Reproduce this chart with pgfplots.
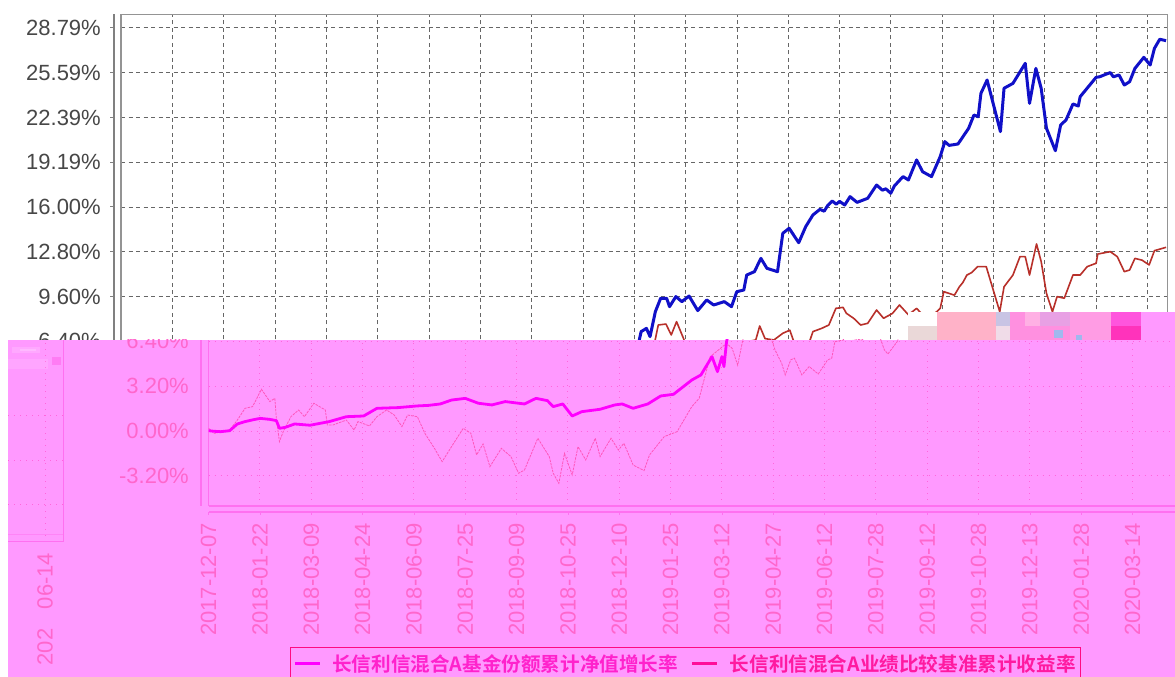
\documentclass[border=0pt]{standalone}
\usepackage{fontspec}
\usepackage{pgfplots}
\usepackage{pgfplotstable}
\pgfplotsset{compat=1.18}
\setmainfont{Liberation Sans}
\newfontfamily\cjk{Noto Sans CJK SC}[BoldFont={Noto Sans CJK SC Bold}]
\definecolor{bg}{HTML}{FF99FF}
\definecolor{pinkgrid}{HTML}{FF66DD}
\definecolor{pinktxt}{HTML}{FF66CC}
\definecolor{pinkspine}{HTML}{FF70F0}
\definecolor{legbox}{HTML}{FF0A80}
\definecolor{fundblue}{HTML}{1010C8}
\definecolor{fundred}{HTML}{B8302A}
\definecolor{benchpink}{HTML}{FF55BB}
\definecolor{purem}{HTML}{FF00FF}
\definecolor{legb}{HTML}{FF0D99}
\pgfplotstableread{
i v
0 0.02
3 -0.02
7 -0.05
12.3 0.02
16.8 0.5
21.3 0.67
26 0.8
30.2 0.9
35.8 0.83
39.6 0.74
41.4 0.19
44.8 0.26
50.3 0.5
59.3 0.41
70.5 0.67
80.5 1.02
90.6 1.07
98.4 1.62
110.8 1.67
122 1.79
128.6 1.83
135.4 1.93
142 2.21
150 2.33
157.7 1.98
165.6 1.86
173.4 2.1
184.6 1.93
191.3 2.33
198 2.17
201.4 1.74
207 1.93
212.5 1.07
218.1 1.38
228.8 1.55
237.4 1.86
241.7 1.93
248.1 1.62
256.7 1.93
264.2 2.5
271.7 2.62
282.4 3.64
287.7 4.0
294.2 5.31
297.4 4.24
300 5.31
301.2 4.6
302.7 6.38
304 7.1
307.1 7.33
309.2 6.74
312.3 8.52
315.4 9.48
318.9 9.48
320.6 8.88
324.3 9.6
327.8 9.24
332 9.64
337.1 8.6
342.3 9.36
346.4 9.0
352.6 9.24
356.8 8.88
359.9 9.95
364 10.07
365.7 11.14
370.2 11.38
374 12.33
377.5 11.62
383.7 11.38
386.8 14.12
390.5 14.48
396.1 13.45
400.2 14.6
404.4 15.43
408.5 15.83
411 15.7
413 16.1
415.7 16.43
418 16.2
420 16.4
423 16.14
426.1 16.74
430.2 16.33
436.4 16.62
441.6 17.57
445 17.2
447 17.3
449.9 16.98
452 17.5
455 17.9
457.1 18.17
460.2 17.93
465 19.36
468.5 18.52
473.7 18.17
478.8 19.6
481.5 20.67
484 20.4
489.2 20.5
495.4 21.62
498.5 22.57
501 22.45
502.6 24.12
506.2 25.07
514 21.38
516.1 24.48
521.3 24.83
528.5 26.26
531 23.4
534.7 25.9
537.8 24.48
540.9 21.62
546.1 20.02
549.2 21.86
552.3 22.21
556.4 23.36
559.5 23.21
560.6 23.88
569.9 25.26
572 25.3
575 25.45
578.2 25.6
580 25.3
583.3 25.43
586.4 24.71
589.5 24.95
592.6 25.9
597.8 26.69
601.5 26.14
604 27.33
607.1 27.98
610.8 27.88
}\fundtable
\pgfplotstableread{
i v
0 0.19
3.4 -0.17
12.3 0.07
16.8 0.78
21.3 1.62
25.7 1.74
30.9 2.98
35.8 2.1
38.7 2.33
39.6 0.9
41.4 -0.76
43.6 -0.05
48.1 1.02
52.6 1.5
56 1.02
61.5 1.98
68.2 1.5
69.4 0.43
72.7 0.43
80.5 0.78
85 0.07
87.3 0.67
94 0.36
98.4 1.02
104 1.5
108.5 1.14
113 0.31
116.3 1.14
122 1.02
126.4 -0.17
132 -1.24
136.5 -2.19
143.2 -0.88
148.8 0.19
153.3 -0.17
156.6 -1.71
160.4 -0.93
164.4 -2.55
171.1 -1.24
176.7 -1.83
181.2 -3.02
184.6 -2.79
192.4 -0.52
199.1 -1.83
201.4 -3.02
204.7 -3.74
208 -1.6
212.5 -3.14
215.9 -1.12
220.4 -2.07
226 -0.52
228.8 -1.83
235.2 -0.52
239.5 -1.36
242.7 -0.88
248.1 -2.43
254.5 -2.83
257.7 -1.71
266.3 -0.4
273.8 -0.05
282.4 1.74
286.7 2.33
288.8 3.3
293.1 5.3
302.7 6.26
306 5.9
309.2 4.7
312 6.38
314 7.57
318.5 7.64
321.6 6.86
324.7 7.81
328.8 6.6
331 5.8
334.9 4.84
337 4.0
340.2 5.08
342.4 5.2
346.7 4.0
351 4.6
356.3 4.07
361.7 5.07
364.2 5.2
366 6.38
371 6.5
373.3 7.5
376.4 6.6
381.6 6.5
386.8 6.98
390.9 7.2
394.9 5.8
397 5.5
402.4 6.38
404.4 7.1
409.5 7.33
413.7 7.57
417.8 8.76
422 8.83
424 8.4
428.2 8.05
432.3 7.57
436.4 7.69
441.6 8.64
445.7 8.05
450.9 8.4
455 9.0
460.2 8.3
465 8.76
468.5 8.3
473.7 8.17
478.8 8.76
480.9 9.95
487.1 9.7
490 10.3
492 10.6
494.4 11.14
497 11.3
500.6 11.74
505.7 11.74
513.6 8.52
516.1 10.3
521.3 11.14
525.4 12.45
528.5 12.45
531 11.14
535.1 13.36
537.8 12.1
540.9 9.83
544.4 8.52
547.1 9.6
551.3 9.48
556.4 11.14
560.6 11.14
564.7 11.74
569.9 11.98
570.9 12.64
578.2 12.81
582.3 12.45
586.4 11.38
589.5 11.5
592.6 12.33
596.8 12.2
600.9 11.86
604 12.88
610.8 13.12
}\benchtable
\pgfplotsset{
  base/.style={scale only axis, anchor=south west},
  xt/.style={xtick={0,30,60,90,120,150,180,210,240,270,300,330,360,390,420,450,480,510,540,570,600}},
  yt/.style={ytick={-3.2,0,3.2,6.4,9.6,12.8,16,19.19,22.39,25.59,28.79},
    yticklabels={-3.20\%,0.00\%,3.20\%,6.40\%,9.60\%,12.80\%,16.00\%,19.19\%,22.39\%,25.59\%,28.79\%}},
}
\begin{document}
\begin{tikzpicture}[x=1pt,y=1pt]
\path[use as bounding box,fill=white] (0,0) rectangle (1175,677);
% upper axis
\begin{axis}[base, at={(121pt,165pt)}, width=1046.6pt, height=497.5pt,
  xmin=0, xmax=611.7, ymin=-5.786, ymax=29.75, xt, yt,
  yticklabels={}, xticklabels={},
  grid=major, major tick length=0pt,
  grid style={draw=black!60, line width=0.9pt, dash pattern=on 4pt off 3.5pt},
  axis line style={draw=black!42, line width=1.4pt}]
\addplot[fundblue, line width=3pt, line join=round] table[x=i,y=v] {\fundtable};
\addplot[fundred, line width=1.6pt, line join=round] table[x=i,y=v] {\benchtable};
\end{axis}
\begin{axis}[base, at={(114pt,165pt)}, width=7pt, height=497.5pt,
  xmin=0, xmax=1, ymin=-5.786, ymax=29.75, yt, xtick=\empty,
  axis x line=none, axis y line=left, axis line style={-, draw=black!50, line width=1.4pt},
  major tick length=4pt, tick align=outside, tick style={draw=black!50, line width=1pt},
  yticklabel style={font=\fontsize{22}{24}\selectfont, text=black!72, inner sep=0pt, xshift=-9pt}]
\end{axis}
% corrupted lower band
\fill[bg] (8,0) rectangle (1175,337);
\begin{scope}
\clip (8,0) rectangle (1175,337);
% wrapped strip at the far left
\begin{axis}[base, at={(8pt,135.3pt)}, width=55.5pt, height=201.7pt,
  xmin=548.4, xmax=580.8, ymin=-5.836, ymax=8.57,
  xtick={570}, xticklabels={202\phantom{0-}06-14},
  ytick={-3.2,0,3.2}, yticklabels={}, grid=major,
  grid style={draw=pinkgrid, line width=0.9pt, dash pattern=on 1pt off 5pt},
  axis x line=bottom, axis y line=right, axis line style={-, draw=pinkspine, line width=1.2pt},
  major tick length=0pt,
  xticklabel style={rotate=90, anchor=east, font=\fontsize{22}{24}\selectfont, text=pinktxt, inner sep=0pt, xshift=-11pt}]
\end{axis}
\fill[pinkspine,opacity=.5] (8,142.3) rectangle (63.5,143.3);
\fill[white,opacity=.15] (12,324) rectangle (40,330);
\fill[white,opacity=.2] (20,326) rectangle (36,328);
\fill[pinkspine,opacity=.7] (52,312) rectangle (61,320);
\fill[white,opacity=.12] (8,308) rectangle (48,318);
% main lower axis
\begin{axis}[base, at={(208.6pt,171pt)}, width=966.4pt, height=166pt,
  xmin=0, xmax=564.8, ymin=-5.36, ymax=6.5, xt, yt,
  yticklabels={}, xticklabels={},
  grid=major, major tick length=0pt,
  grid style={draw=pinkgrid, line width=0.9pt, dash pattern=on 1pt off 5pt},
  axis x line=bottom, axis y line=left, axis line style={-, draw=pinkspine, line width=1.2pt},
  legend columns=2,
  legend cell align=left,
  legend style={at={(0.0842,-0.849)}, anchor=north west, draw=legbox, line width=1.1pt, fill=none,
    font=\cjk\bfseries\fontsize{19.6}{22}\selectfont, inner xsep=3pt, inner ysep=5pt,
    /tikz/every even column/.style={column sep=11pt}},
  legend image code/.code={\draw[#1] (0pt,0pt)--(25pt,0pt);}]
\addplot[benchpink, line width=0.8pt, dash pattern=on 2.5pt off 1pt, forget plot] table[x=i,y=v] {\benchtable};
\addplot[purem, line width=2.8pt, line join=round] table[x=i,y=v] {\fundtable};
\addlegendentry{\hspace*{9pt}\textcolor[HTML]{FF22CC}{长信利信混合A基金份额累计净值增长率}}
\addplot[legb, line width=2.8pt] coordinates {(-50,0)};
\addlegendentry{\hspace*{9pt}\textcolor[HTML]{FF1AA0}{长信利信混合A业绩比较基准累计收益率}}
\end{axis}
\begin{axis}[base, at={(201pt,171pt)}, width=7.6pt, height=166pt,
  xmin=0, xmax=1, ymin=-5.36, ymax=6.5, yt, xtick=\empty,
  axis x line=none, axis y line=left, axis line style={-, draw=pinkspine, line width=1.2pt},
  major tick length=0pt,
  yticklabel style={font=\fontsize{22}{24}\selectfont, text=pinktxt, inner sep=0pt, xshift=-12pt}]
\end{axis}
\begin{axis}[base, at={(208.6pt,165pt)}, width=966.4pt, height=5pt,
  xmin=0, xmax=564.8, ymin=0, ymax=1, xt, ytick=\empty,
  xticklabels={2017-12-07,2018-01-22,2018-03-09,2018-04-24,2018-06-09,2018-07-25,2018-09-09,2018-10-25,2018-12-10,2019-01-25,2019-03-12,2019-04-27,2019-06-12,2019-07-28,2019-09-12,2019-10-28,2019-12-13,2020-01-28,2020-03-14},
  axis y line=none, axis x line=bottom, axis line style={-, draw=pinkspine, line width=1.2pt},
  major tick length=3pt, tick align=outside, tick style={draw=pinkspine,line width=.8pt},
  xticklabel style={rotate=90, anchor=east, font=\fontsize{22}{24}\selectfont, text=pinktxt, inner sep=0pt, xshift=-8pt}]
\end{axis}
\end{scope}
% corrupted blocks
\definecolor{bA}{HTML}{FFB2C8}
\definecolor{bB}{HTML}{C8C4E4}
\definecolor{bC}{HTML}{F0DCE8}
\definecolor{bD}{HTML}{FF90E0}
\definecolor{bE}{HTML}{FFB0E4}
\definecolor{bF}{HTML}{E8A0E4}
\definecolor{bG}{HTML}{FF9CE4}
\definecolor{bH}{HTML}{FF55DD}
\definecolor{bI}{HTML}{FF33BB}
\definecolor{bJ}{HTML}{EAD8D8}
\definecolor{bK}{HTML}{A0B8EE}
\fill[white] (908,351) rectangle (937,365);
\fill[bJ] (908,337) rectangle (937,351);
\fill[bA] (937,337) rectangle (996,365);
\fill[bB] (996,351) rectangle (1010,365);
\fill[bC] (996,337) rectangle (1010,351);
\fill[bD] (1010,337) rectangle (1040,365);
\fill[bE] (1025,351) rectangle (1040,365);
\fill[bF] (1040,351) rectangle (1070,365);
\fill[bD] (1040,337) rectangle (1070,351);
\fill[bG] (1070,337) rectangle (1111,365);
\fill[bH] (1111,351) rectangle (1141,365);
\fill[bI] (1111,337) rectangle (1141,351);
\fill[bg] (1141,337) rectangle (1175,365);
\fill[bK] (1054,339) rectangle (1063,347);
\fill[bK] (1076,337) rectangle (1082,342);
\end{tikzpicture}
\end{document}
